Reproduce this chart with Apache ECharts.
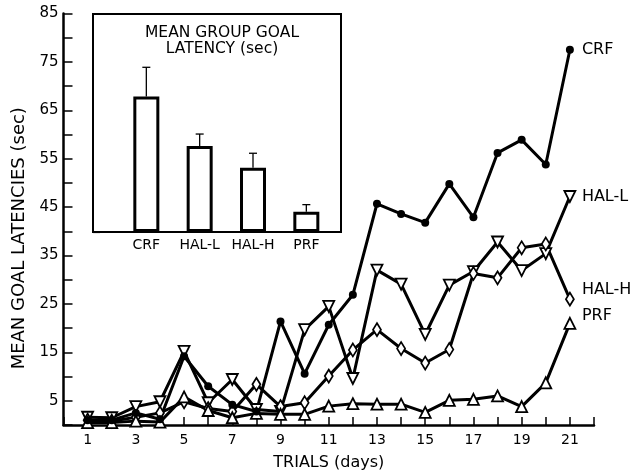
<!DOCTYPE html>
<html>
<head>
<meta charset="utf-8">
<script src="https://cdn.jsdelivr.net/npm/echarts@6/dist/echarts.min.js"></script>
<style>
html,body{margin:0;padding:0;background:#fff;}
#chart{width:636px;height:476px;}
</style>
</head>
<body>
<div id="chart"></div>
<script>
// ---- data ----
const trials = [1,2,3,4,5,6,7,8,9,10,11,12,13,14,15,16,17,18,19,20,21];
const crf  = [1.0,1.0,2.5,1.2,14.2,8.0,4.2,2.8,21.4,10.6,20.7,26.9,45.7,43.6,41.8,49.8,42.9,56.2,58.9,53.8,77.5];
const halL = [1.6,1.5,3.8,4.8,15.2,4.6,9.4,3.2,2.8,19.7,24.5,9.6,32.0,29.1,18.7,28.9,31.7,37.8,31.9,35.4,47.2];
const halH = [1.0,0.8,1.6,2.5,4.8,3.4,2.8,8.4,3.8,4.6,10.1,15.5,19.7,15.8,12.8,15.6,31.3,30.4,36.6,37.4,26.0];
const prf  = [0.5,0.5,0.8,0.6,5.8,3.0,1.5,2.4,2.2,2.2,3.9,4.4,4.3,4.3,2.6,5.1,5.3,6.0,3.8,8.7,21.0];
const seriesNames = ['CRF','HAL-L','HAL-H','PRF'];

const xTickLabels = [1,3,5,7,9,11,13,15,17,19,21];
const yTickLabels = [5,15,25,35,45,55,65,75,85];

const insetCategories = ['CRF','HAL-L','HAL-H','PRF'];
const insetPositions = [1,2,3,4];
const insetMeans = [28.2,17.9,13.4,4.2];
const insetErrors = [6.1,2.5,3.0,1.5];
const insetTickLabels = [10,20,30,40];

// ---- chart ----
const FONT = 'DejaVu Sans';
const chart = echarts.init(document.getElementById('chart'), null, {renderer:'canvas'});
const pairs = arr => trials.map((t,i)=>[t,arr[i]]);

function endLabel(dy){
  return {show:true, formatter:'{a}', color:'#000', fontFamily:FONT, fontSize:16, distance:12, offset:[0,dy]};
}
function lineSeries(name, data, sym, extra){
  return Object.assign({
    name: name, type:'line', xAxisIndex:0, yAxisIndex:0,
    data: pairs(data),
    symbol: sym, symbolSize: 11,
    lineStyle:{color:'#000', width:3},
    itemStyle:{color:'#fff', borderColor:'#000', borderWidth:1.8},
    endLabel: endLabel(0),
    z: 3
  }, extra || {});
}

const option = {
  animation:false,
  backgroundColor:'#fff',
  textStyle:{fontFamily:FONT, color:'#000'},
  grid:[
    {left:63.5, right:42, top:13.5, bottom:48.5},
    {left:93, top:14, width:248, height:218, show:true, backgroundColor:'#fff', borderColor:'#000', borderWidth:2, z:5}
  ],
  xAxis:[
    {
      gridIndex:0, type:'value', min:0, max:22, interval:1,
      name:'TRIALS (days)', nameLocation:'middle', nameGap:30,
      nameTextStyle:{fontFamily:FONT, fontSize:16, color:'#000'},
      axisLine:{show:true, onZero:false, lineStyle:{color:'#000', width:2.5}},
      axisTick:{show:true, inside:true, length:8, lineStyle:{color:'#000', width:1.5}},
      axisLabel:{fontFamily:FONT, fontSize:14, color:'#000', margin:8,
        formatter: v => xTickLabels.indexOf(v) >= 0 ? String(v) : ''},
      splitLine:{show:false}
    },
    {
      gridIndex:1, type:'value', min:0, max:4.65, interval:1,
      axisLine:{show:false}, axisTick:{show:false},
      axisLabel:{fontFamily:FONT, fontSize:14, color:'#000', margin:6,
        formatter: v => { const i = insetPositions.indexOf(v); return i >= 0 ? insetCategories[i] : ''; }},
      splitLine:{show:false}
    }
  ],
  yAxis:[
    {
      gridIndex:0, type:'value', min:0, max:85, interval:5,
      name:'MEAN GOAL LATENCIES (sec)', nameLocation:'middle', nameGap:32,
      nameTextStyle:{fontFamily:FONT, fontSize:18, color:'#000', padding:[0,38,0,0]},
      axisLine:{show:true, lineStyle:{color:'#000', width:2.5}},
      axisTick:{show:true, inside:true, length:9, lineStyle:{color:'#000', width:1.5}},
      axisLabel:{fontFamily:FONT, fontSize:15, color:'#000', margin:5,
        formatter: v => yTickLabels.indexOf(v) >= 0 ? String(v) : ''},
      splitLine:{show:false}
    },
    {
      gridIndex:1, type:'value', min:0, max:45.4, interval:10,
      axisLine:{show:false},
      axisTick:{show:true, inside:true, length:7, lineStyle:{color:'#000', width:1.2}},
      axisLabel:{inside:true, fontFamily:FONT, fontSize:14, color:'#000', margin:10,
        formatter: v => insetTickLabels.indexOf(v) >= 0 ? String(v) : ''},
      splitLine:{show:false}
    }
  ],
  title:{
    text:'MEAN GROUP GOAL\nLATENCY (sec)',
    left:217, top:20, textAlign:'center',
    textStyle:{fontFamily:FONT, fontSize:15.5, fontWeight:'normal', color:'#000', lineHeight:16, align:'center'},
    z:10
  },
  series:[
    lineSeries(seriesNames[1], halL, 'triangle', {symbolRotate:180}),
    lineSeries(seriesNames[2], halH, 'diamond', {symbolSize:[8,13], endLabel:endLabel(-9)}),
    lineSeries(seriesNames[3], prf, 'triangle', {endLabel:endLabel(-7)}),
    lineSeries(seriesNames[0], crf, 'circle', {symbolSize:8, itemStyle:{color:'#000', borderColor:'#000', borderWidth:0}}),
    {
      type:'bar', xAxisIndex:1, yAxisIndex:1, z:6,
      data: insetPositions.map((p,i)=>[p, insetMeans[i]]),
      barWidth:26,
      itemStyle:{color:'#fff', borderColor:'#000', borderWidth:3}
    },
    {
      type:'custom', xAxisIndex:1, yAxisIndex:1, z:7,
      data: insetPositions.map((p,i)=>[p, insetMeans[i], insetMeans[i]+insetErrors[i]]),
      renderItem: function(params, api){
        const base = api.coord([api.value(0), api.value(1)]);
        const top = api.coord([api.value(0), api.value(2)]);
        const cap = 4;
        return {
          type:'group',
          children:[
            {type:'line', shape:{x1:top[0], y1:base[1], x2:top[0], y2:top[1]}, style:{stroke:'#000', lineWidth:1.3}},
            {type:'line', shape:{x1:top[0]-cap, y1:top[1], x2:top[0]+cap, y2:top[1]}, style:{stroke:'#000', lineWidth:1.3}}
          ]
        };
      }
    }
  ]
};
chart.setOption(option);
</script>
</body>
</html>
